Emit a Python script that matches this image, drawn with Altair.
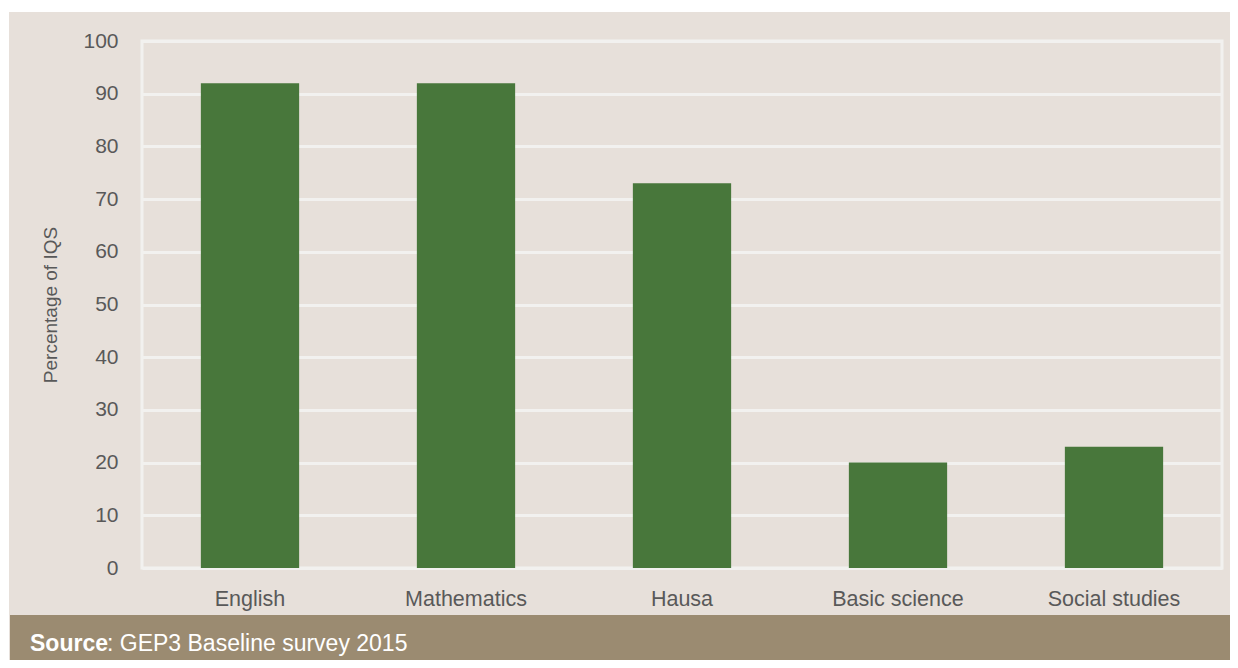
import altair as alt
import pandas as pd

categories = ["English", "Mathematics", "Hausa", "Basic science", "Social studies"]
values = [92, 92, 73, 20, 23]
y_ticks = [0, 10, 20, 30, 40, 50, 60, 70, 80, 90, 100]
source_bold = "Source"
source_rest = ": GEP3 Baseline survey 2015"

df = pd.DataFrame({"subject": categories, "pct": values})

BEIGE = "#E7E0DA"
GREEN = "#48773B"
FOOT = "#9B8B71"
GREY = "#595959"
FONT = "Liberation Sans"

bars = alt.Chart(df).mark_bar(color=GREEN).encode(
    x=alt.X("subject:N", sort=categories, title=None,
            scale=alt.Scale(paddingInner=0.545, paddingOuter=0.2725),
            axis=alt.Axis(labelAngle=0, labelFontSize=21.5, labelColor=GREY, labelFont=FONT,
                          ticks=False, domain=False, labelPadding=20, grid=False)),
    y=alt.Y("pct:Q", scale=alt.Scale(domain=[0, 100], nice=False),
            axis=alt.Axis(values=y_ticks, title="Percentage of IQS", titleFontSize=19,
                          titleFont=FONT, titleColor=GREY, titleFontWeight="normal",
                          titleX=-92, titleY=263.5, titleAngle=-90, titleAlign="center",
                          titleBaseline="middle",
                          labelFontSize=21, labelColor=GREY, labelFont=FONT, labelPadding=24,
                          ticks=False, domain=False, grid=True, gridColor="#F2F1EF",
                          gridWidth=3)),
)

one = alt.Data(values=[{"a": 1}])

top_strip = alt.Chart(one).mark_rect(color="white", clip=False).encode(
    x=alt.value(-134), x2=alt.value(1088), y=alt.value(-33), y2=alt.value(-29))
left_strip = alt.Chart(one).mark_rect(color="white", clip=False).encode(
    x=alt.value(-134), x2=alt.value(-133), y=alt.value(-33), y2=alt.value(619))
footer = alt.Chart(one).mark_rect(color=FOOT, clip=False).encode(
    x=alt.value(-132), x2=alt.value(1088), y=alt.value(574), y2=alt.value(619))
t1 = alt.Chart(pd.DataFrame({"t": [source_bold]})).mark_text(
    align="left", baseline="middle", fontSize=23, font=FONT, fontWeight="bold",
    color="white", clip=False).encode(x=alt.value(-112), y=alt.value(603), text="t:N")
t2 = alt.Chart(pd.DataFrame({"t": [source_rest]})).mark_text(
    align="left", baseline="middle", fontSize=23, font=FONT, color="white",
    clip=False).encode(x=alt.value(-35), y=alt.value(603), text="t:N")

chart = alt.layer(bars, top_strip, left_strip, footer, t1, t2).properties(
    width=1080, height=527,
    autosize=alt.AutoSizeParams(type="none"),
    padding={"left": 134, "top": 33, "right": 8, "bottom": 92},
    background=BEIGE,
).configure_view(stroke="#F2F1EF", strokeWidth=3)

chart.save("out.html", embed_options={"renderer": "svg", "actions": False})
